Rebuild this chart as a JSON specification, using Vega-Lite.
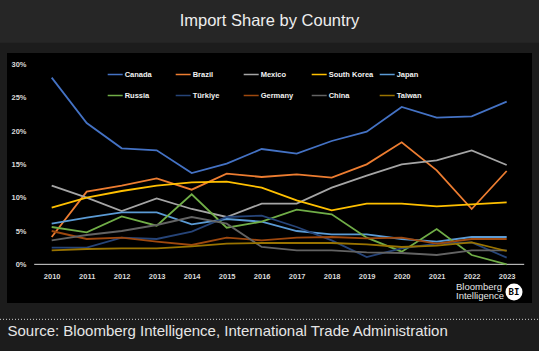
{
  "$schema": "https://vega.github.io/schema/vega-lite/v6.json",
  "width": 525,
  "height": 250,
  "autosize": {"type": "none"},
  "padding": {"left": 7, "top": 53, "right": 7, "bottom": 48},
  "background": "#1c1c1c",
  "config": {
    "view": {"fill": "#000000", "stroke": null},
    "axis": {"domain": false, "ticks": false, "grid": false, "labelFont": "Liberation Sans", "labelFontSize": 7.5, "labelFontWeight": "bold", "labelColor": "#d9d9d9"}
  },
  "layer": [
    {
      "data": {"values": [{}]},
      "mark": {"type": "rect", "fill": "#262626"},
      "encoding": {
        "x": {"datum": 2008.523, "type": "quantitative"},
        "x2": {"datum": 2023.923},
        "y": {"datum": 0.397, "type": "quantitative"},
        "y2": {"datum": 0.3325}
      }
    },
    {
      "data": {"values": [{}]},
      "mark": {"type": "text", "text": "Import Share by Country", "align": "center", "baseline": "middle", "font": "Liberation Sans", "fontSize": 16.5, "fontWeight": "normal", "fill": "#eeeeee"},
      "encoding": {
        "x": {"datum": 2016.223, "type": "quantitative"},
        "y": {"datum": 0.3656, "type": "quantitative"}
      }
    },
    {
      "data": {"values": [{}]},
      "mark": {"type": "rule", "color": "#d0d0d0", "strokeWidth": 1, "strokeDash": [1, 2]},
      "encoding": {
        "x": {"datum": 2008.523, "type": "quantitative"},
        "x2": {"datum": 2023.923},
        "y": {"datum": -0.0825, "type": "quantitative"}
      }
    },
    {
      "data": {"values": [{}]},
      "mark": {"type": "rule", "color": "#d9d9d9", "strokeWidth": 1},
      "encoding": {
        "x": {"datum": 2009.5, "type": "quantitative"},
        "x2": {"datum": 2023.5},
        "y": {"datum": 0, "type": "quantitative"}
      }
    },
    {
      "data": {
        "values": [
          {"year": 2010, "country": "Canada", "share": 0.280},
          {"year": 2011, "country": "Canada", "share": 0.212},
          {"year": 2012, "country": "Canada", "share": 0.174},
          {"year": 2013, "country": "Canada", "share": 0.171},
          {"year": 2014, "country": "Canada", "share": 0.137},
          {"year": 2015, "country": "Canada", "share": 0.151},
          {"year": 2016, "country": "Canada", "share": 0.173},
          {"year": 2017, "country": "Canada", "share": 0.166},
          {"year": 2018, "country": "Canada", "share": 0.185},
          {"year": 2019, "country": "Canada", "share": 0.199},
          {"year": 2020, "country": "Canada", "share": 0.236},
          {"year": 2021, "country": "Canada", "share": 0.220},
          {"year": 2022, "country": "Canada", "share": 0.222},
          {"year": 2023, "country": "Canada", "share": 0.244},
          {"year": 2010, "country": "Brazil", "share": 0.041},
          {"year": 2011, "country": "Brazil", "share": 0.109},
          {"year": 2012, "country": "Brazil", "share": 0.118},
          {"year": 2013, "country": "Brazil", "share": 0.129},
          {"year": 2014, "country": "Brazil", "share": 0.112},
          {"year": 2015, "country": "Brazil", "share": 0.136},
          {"year": 2016, "country": "Brazil", "share": 0.131},
          {"year": 2017, "country": "Brazil", "share": 0.135},
          {"year": 2018, "country": "Brazil", "share": 0.130},
          {"year": 2019, "country": "Brazil", "share": 0.150},
          {"year": 2020, "country": "Brazil", "share": 0.183},
          {"year": 2021, "country": "Brazil", "share": 0.141},
          {"year": 2022, "country": "Brazil", "share": 0.083},
          {"year": 2023, "country": "Brazil", "share": 0.140},
          {"year": 2010, "country": "Mexico", "share": 0.118},
          {"year": 2011, "country": "Mexico", "share": 0.100},
          {"year": 2012, "country": "Mexico", "share": 0.080},
          {"year": 2013, "country": "Mexico", "share": 0.099},
          {"year": 2014, "country": "Mexico", "share": 0.083},
          {"year": 2015, "country": "Mexico", "share": 0.071},
          {"year": 2016, "country": "Mexico", "share": 0.091},
          {"year": 2017, "country": "Mexico", "share": 0.091},
          {"year": 2018, "country": "Mexico", "share": 0.115},
          {"year": 2019, "country": "Mexico", "share": 0.133},
          {"year": 2020, "country": "Mexico", "share": 0.150},
          {"year": 2021, "country": "Mexico", "share": 0.156},
          {"year": 2022, "country": "Mexico", "share": 0.171},
          {"year": 2023, "country": "Mexico", "share": 0.149},
          {"year": 2010, "country": "South Korea", "share": 0.085},
          {"year": 2011, "country": "South Korea", "share": 0.100},
          {"year": 2012, "country": "South Korea", "share": 0.110},
          {"year": 2013, "country": "South Korea", "share": 0.118},
          {"year": 2014, "country": "South Korea", "share": 0.123},
          {"year": 2015, "country": "South Korea", "share": 0.124},
          {"year": 2016, "country": "South Korea", "share": 0.115},
          {"year": 2017, "country": "South Korea", "share": 0.096},
          {"year": 2018, "country": "South Korea", "share": 0.081},
          {"year": 2019, "country": "South Korea", "share": 0.091},
          {"year": 2020, "country": "South Korea", "share": 0.091},
          {"year": 2021, "country": "South Korea", "share": 0.087},
          {"year": 2022, "country": "South Korea", "share": 0.090},
          {"year": 2023, "country": "South Korea", "share": 0.093},
          {"year": 2010, "country": "Japan", "share": 0.061},
          {"year": 2011, "country": "Japan", "share": 0.070},
          {"year": 2012, "country": "Japan", "share": 0.078},
          {"year": 2013, "country": "Japan", "share": 0.078},
          {"year": 2014, "country": "Japan", "share": 0.060},
          {"year": 2015, "country": "Japan", "share": 0.068},
          {"year": 2016, "country": "Japan", "share": 0.064},
          {"year": 2017, "country": "Japan", "share": 0.050},
          {"year": 2018, "country": "Japan", "share": 0.045},
          {"year": 2019, "country": "Japan", "share": 0.045},
          {"year": 2020, "country": "Japan", "share": 0.038},
          {"year": 2021, "country": "Japan", "share": 0.034},
          {"year": 2022, "country": "Japan", "share": 0.041},
          {"year": 2023, "country": "Japan", "share": 0.041},
          {"year": 2010, "country": "Russia", "share": 0.056},
          {"year": 2011, "country": "Russia", "share": 0.048},
          {"year": 2012, "country": "Russia", "share": 0.072},
          {"year": 2013, "country": "Russia", "share": 0.058},
          {"year": 2014, "country": "Russia", "share": 0.105},
          {"year": 2015, "country": "Russia", "share": 0.055},
          {"year": 2016, "country": "Russia", "share": 0.064},
          {"year": 2017, "country": "Russia", "share": 0.082},
          {"year": 2018, "country": "Russia", "share": 0.075},
          {"year": 2019, "country": "Russia", "share": 0.040},
          {"year": 2020, "country": "Russia", "share": 0.019},
          {"year": 2021, "country": "Russia", "share": 0.053},
          {"year": 2022, "country": "Russia", "share": 0.014},
          {"year": 2023, "country": "Russia", "share": 0.000},
          {"year": 2010, "country": "Türkiye", "share": 0.025},
          {"year": 2011, "country": "Türkiye", "share": 0.025},
          {"year": 2012, "country": "Türkiye", "share": 0.040},
          {"year": 2013, "country": "Türkiye", "share": 0.038},
          {"year": 2014, "country": "Türkiye", "share": 0.049},
          {"year": 2015, "country": "Türkiye", "share": 0.071},
          {"year": 2016, "country": "Türkiye", "share": 0.073},
          {"year": 2017, "country": "Türkiye", "share": 0.056},
          {"year": 2018, "country": "Türkiye", "share": 0.036},
          {"year": 2019, "country": "Türkiye", "share": 0.011},
          {"year": 2020, "country": "Türkiye", "share": 0.024},
          {"year": 2021, "country": "Türkiye", "share": 0.031},
          {"year": 2022, "country": "Türkiye", "share": 0.033},
          {"year": 2023, "country": "Türkiye", "share": 0.010},
          {"year": 2010, "country": "Germany", "share": 0.050},
          {"year": 2011, "country": "Germany", "share": 0.038},
          {"year": 2012, "country": "Germany", "share": 0.040},
          {"year": 2013, "country": "Germany", "share": 0.034},
          {"year": 2014, "country": "Germany", "share": 0.029},
          {"year": 2015, "country": "Germany", "share": 0.040},
          {"year": 2016, "country": "Germany", "share": 0.036},
          {"year": 2017, "country": "Germany", "share": 0.040},
          {"year": 2018, "country": "Germany", "share": 0.041},
          {"year": 2019, "country": "Germany", "share": 0.039},
          {"year": 2020, "country": "Germany", "share": 0.040},
          {"year": 2021, "country": "Germany", "share": 0.031},
          {"year": 2022, "country": "Germany", "share": 0.038},
          {"year": 2023, "country": "Germany", "share": 0.038},
          {"year": 2010, "country": "China", "share": 0.036},
          {"year": 2011, "country": "China", "share": 0.044},
          {"year": 2012, "country": "China", "share": 0.050},
          {"year": 2013, "country": "China", "share": 0.059},
          {"year": 2014, "country": "China", "share": 0.071},
          {"year": 2015, "country": "China", "share": 0.061},
          {"year": 2016, "country": "China", "share": 0.026},
          {"year": 2017, "country": "China", "share": 0.021},
          {"year": 2018, "country": "China", "share": 0.021},
          {"year": 2019, "country": "China", "share": 0.018},
          {"year": 2020, "country": "China", "share": 0.017},
          {"year": 2021, "country": "China", "share": 0.014},
          {"year": 2022, "country": "China", "share": 0.021},
          {"year": 2023, "country": "China", "share": 0.021},
          {"year": 2010, "country": "Taiwan", "share": 0.021},
          {"year": 2011, "country": "Taiwan", "share": 0.023},
          {"year": 2012, "country": "Taiwan", "share": 0.024},
          {"year": 2013, "country": "Taiwan", "share": 0.024},
          {"year": 2014, "country": "Taiwan", "share": 0.027},
          {"year": 2015, "country": "Taiwan", "share": 0.031},
          {"year": 2016, "country": "Taiwan", "share": 0.032},
          {"year": 2017, "country": "Taiwan", "share": 0.032},
          {"year": 2018, "country": "Taiwan", "share": 0.032},
          {"year": 2019, "country": "Taiwan", "share": 0.030},
          {"year": 2020, "country": "Taiwan", "share": 0.026},
          {"year": 2021, "country": "Taiwan", "share": 0.028},
          {"year": 2022, "country": "Taiwan", "share": 0.033},
          {"year": 2023, "country": "Taiwan", "share": 0.020}
        ]
      },
      "mark": {"type": "line", "strokeWidth": 1.8, "interpolate": "linear"},
      "encoding": {
        "x": {
          "field": "year",
          "type": "quantitative",
          "scale": {"domain": [2008.723, 2023.723], "nice": false, "zero": false},
          "axis": {
            "values": [2010, 2011, 2012, 2013, 2014, 2015, 2016, 2017, 2018, 2019, 2020, 2021, 2022, 2023],
            "format": "d",
            "offset": -38.7,
            "labelBaseline": "middle",
            "labelPadding": 12,
            "labelOverlap": false,
            "labelFlush": false,
            "title": "Source: Bloomberg Intelligence, International Trade Administration",
            "titleX": 0,
            "titleY": 66.2,
            "titleAlign": "left",
            "titleAnchor": "start",
            "titleBaseline": "middle",
            "titleFont": "Liberation Sans",
            "titleFontSize": 15,
            "titleFontWeight": "normal",
            "titleColor": "#e6e6e6"
          }
        },
        "y": {
          "field": "share",
          "type": "quantitative",
          "scale": {"domain": [-0.058, 0.317], "nice": false, "zero": false},
          "axis": {
            "values": [0, 0.05, 0.1, 0.15, 0.2, 0.25, 0.3],
            "format": ".0%",
            "offset": -21,
            "labelPadding": 2,
            "title": null
          }
        },
        "color": {
          "field": "country",
          "type": "nominal",
          "scale": {
            "domain": ["Canada", "Brazil", "Mexico", "South Korea", "Japan", "Russia", "Türkiye", "Germany", "China", "Taiwan"],
            "range": ["#4472C4", "#ED7D31", "#A5A5A5", "#FFC000", "#5B9BD5", "#70AD47", "#264478", "#9E480E", "#636363", "#997300"]
          },
          "legend": {
            "orient": "none",
            "legendX": 99.7,
            "legendY": 13,
            "direction": "horizontal",
            "columns": 5,
            "gridAlign": "all",
            "title": null,
            "padding": 0,
            "symbolType": "stroke",
            "symbolSize": 225,
            "symbolStrokeWidth": 1.5,
            "labelFont": "Liberation Sans",
            "labelFontSize": 7.5,
            "labelFontWeight": "bold",
            "labelColor": "#f2f2f2",
            "labelOffset": 1,
            "columnPadding": 3,
            "rowPadding": 9
          }
        }
      }
    },
    {
      "data": {"values": [{}]},
      "mark": {"type": "text", "text": "Bloomberg", "align": "left", "baseline": "middle", "font": "Liberation Sans", "fontSize": 9.5, "fontWeight": "normal", "fill": "#e6e6e6"},
      "encoding": {
        "x": {"datum": 2021.552, "type": "quantitative"},
        "y": {"datum": -0.03375, "type": "quantitative"}
      }
    },
    {
      "data": {"values": [{}]},
      "mark": {"type": "text", "text": "Intelligence", "align": "left", "baseline": "middle", "font": "Liberation Sans", "fontSize": 9.5, "fontWeight": "normal", "fill": "#e6e6e6"},
      "encoding": {
        "x": {"datum": 2021.552, "type": "quantitative"},
        "y": {"datum": -0.04815, "type": "quantitative"}
      }
    },
    {
      "data": {"values": [{}]},
      "mark": {"type": "point", "shape": "circle", "filled": true, "size": 289, "fill": "#ffffff", "opacity": 1},
      "encoding": {
        "x": {"datum": 2023.209, "type": "quantitative"},
        "y": {"datum": -0.04155, "type": "quantitative"}
      }
    },
    {
      "data": {"values": [{}]},
      "mark": {"type": "text", "text": "BI", "align": "center", "baseline": "middle", "font": "DejaVu Sans Mono", "fontSize": 9, "fontWeight": "bold", "fill": "#000000"},
      "encoding": {
        "x": {"datum": 2023.209, "type": "quantitative"},
        "y": {"datum": -0.04155, "type": "quantitative"}
      }
    }
  ]
}
